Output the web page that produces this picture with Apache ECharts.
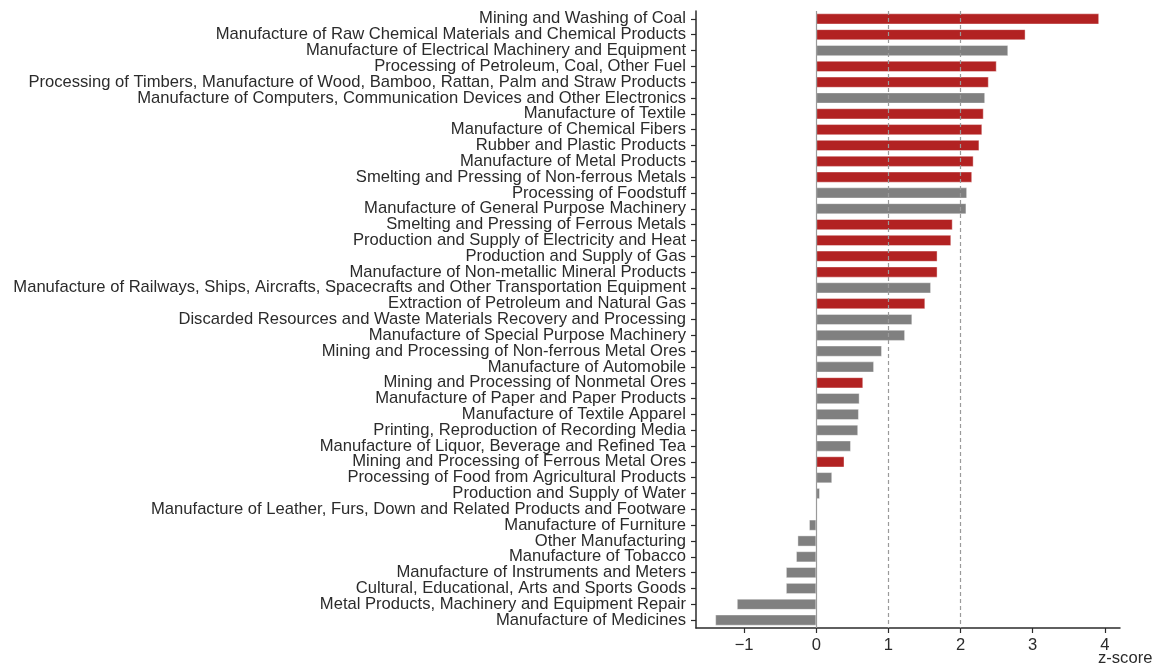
<!DOCTYPE html>
<html>
<head>
<meta charset="utf-8">
<script src="https://cdn.jsdelivr.net/npm/echarts@6/dist/echarts.min.js"></script>
<style>
  html, body { margin: 0; padding: 0; background: #fff; }
  #main { width: 1163px; height: 665px; }
</style>
</head>
<body>
<div id="main"></div>
<script>
// industry names, top to bottom
var industries = [
    'Mining and Washing of Coal',
    'Manufacture of Raw Chemical Materials and Chemical Products',
    'Manufacture of Electrical Machinery and Equipment',
    'Processing of Petroleum, Coal, Other Fuel',
    'Processing of Timbers, Manufacture of Wood, Bamboo, Rattan, Palm and Straw Products',
    'Manufacture of Computers, Communication Devices and Other Electronics',
    'Manufacture of Textile',
    'Manufacture of Chemical Fibers',
    'Rubber and Plastic Products',
    'Manufacture of Metal Products',
    'Smelting and Pressing of Non-ferrous Metals',
    'Processing of Foodstuff',
    'Manufacture of General Purpose Machinery',
    'Smelting and Pressing of Ferrous Metals',
    'Production and Supply of Electricity and Heat',
    'Production and Supply of Gas',
    'Manufacture of Non-metallic Mineral Products',
    'Manufacture of Railways, Ships, Aircrafts, Spacecrafts and Other Transportation Equipment',
    'Extraction of Petroleum and Natural Gas',
    'Discarded Resources and Waste Materials Recovery and Processing',
    'Manufacture of Special Purpose Machinery',
    'Mining and Processing of Non-ferrous Metal Ores',
    'Manufacture of Automobile',
    'Mining and Processing of Nonmetal Ores',
    'Manufacture of Paper and Paper Products',
    'Manufacture of Textile Apparel',
    'Printing, Reproduction of Recording Media',
    'Manufacture of Liquor, Beverage and Refined Tea',
    'Mining and Processing of Ferrous Metal Ores',
    'Processing of Food from Agricultural Products',
    'Production and Supply of Water',
    'Manufacture of Leather, Furs, Down and Related Products and Footware',
    'Manufacture of Furniture',
    'Other Manufacturing',
    'Manufacture of Tobacco',
    'Manufacture of Instruments and Meters',
    'Cultural, Educational, Arts and Sports Goods',
    'Metal Products, Machinery and Equipment Repair',
    'Manufacture of Medicines'
];

// z-score per industry
var zScores = [
    3.92, 2.90, 2.66, 2.50, 2.39, 2.34, 2.32, 2.30, 2.26, 2.18,
    2.16, 2.09, 2.08, 1.89, 1.87, 1.68, 1.68, 1.59, 1.51, 1.33,
    1.23, 0.91, 0.80, 0.65, 0.60, 0.59, 0.58, 0.48, 0.39, 0.22,
    0.05, 0.00, -0.10, -0.26, -0.28, -0.42, -0.42, -1.10, -1.40
];

// 1 = highlighted (red), 0 = grey
var highlighted = [
    1, 1, 0, 1, 1, 0, 1, 1, 1, 1,
    1, 0, 0, 1, 1, 1, 1, 0, 1, 0,
    0, 0, 0, 1, 0, 0, 0, 0, 1, 0,
    0, 0, 0, 0, 0, 0, 0, 0, 0
];

var xTicks = [-1, 0, 1, 2, 3, 4];
var refLines = [0, 1, 2];

var RED = '#B22222';
var GREY = '#808080';
var INK = '#2b2b2b';
var FONT = 'Liberation Sans';
var FONT_SIZE = 16.6;

var barData = [];
for (var i = 0; i < zScores.length; i++) {
    barData.push({
        value: zScores[i],
        itemStyle: { color: highlighted[i] ? RED : GREY }
    });
}

var lineData = [];
for (var j = 0; j < refLines.length; j++) {
    lineData.push({
        xAxis: refLines[j],
        lineStyle: refLines[j] === 0
            ? { type: 'solid', color: '#9a9a9a', width: 1.2 }
            : { type: [4, 3], color: '#9a9a9a', width: 1.2 }
    });
}

var chart = echarts.init(document.getElementById('main'));
chart.setOption({
    backgroundColor: '#ffffff',
    animation: false,
    grid: { left: 696, right: 43, top: 11, bottom: 37 },
    xAxis: {
        type: 'value',
        min: -1.667,
        max: 4.21,
        splitLine: { show: false },
        axisLine: { show: true, onZero: false, lineStyle: { color: INK, width: 1.5 } },
        axisTick: { show: true, length: 5, customValues: xTicks, lineStyle: { color: INK, width: 1.2 } },
        axisLabel: {
            customValues: xTicks,
            margin: 9,
            color: INK,
            fontFamily: FONT,
            fontSize: FONT_SIZE,
            formatter: function (v) { return String(v).replace('-', '\u2212'); }
        }
    },
    yAxis: {
        type: 'category',
        inverse: true,
        data: industries,
        axisLine: { show: true, onZero: false, lineStyle: { color: INK, width: 1.5 } },
        axisTick: { show: true, alignWithLabel: true, length: 5, lineStyle: { color: INK, width: 1.2 } },
        axisLabel: {
            interval: 0,
            margin: 10,
            color: INK,
            fontFamily: FONT,
            fontSize: FONT_SIZE
        }
    },
    graphic: [{
        type: 'text',
        left: 1098,
        top: 650,
        style: {
            text: 'z-score',
            fill: INK,
            font: FONT_SIZE + 'px "' + FONT + '"'
        }
    }],
    series: [{
        type: 'bar',
        data: barData,
        barWidth: 11,
        itemStyle: { borderColor: 'rgba(255,255,255,0.5)', borderWidth: 0.8 },
        markLine: {
            silent: true,
            symbol: 'none',
            label: { show: false },
            data: lineData
        }
    }]
});
</script>
</body>
</html>
